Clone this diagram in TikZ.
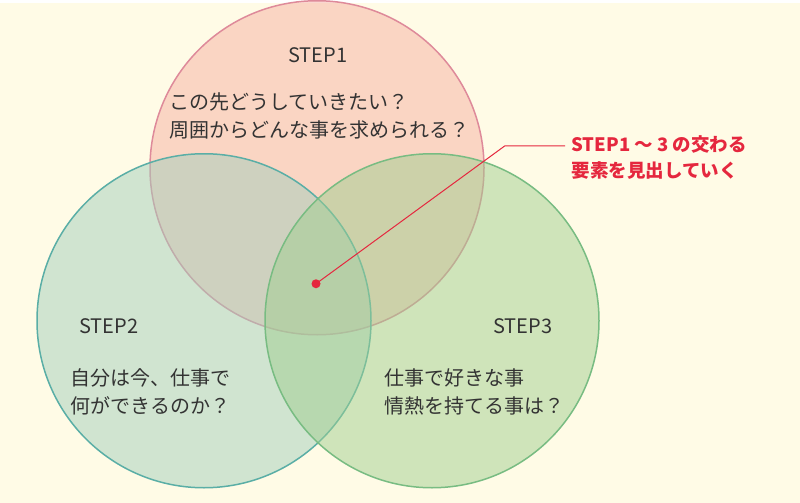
\documentclass[tikz,border=0pt]{standalone}
\usepackage{fontspec}
\setmainfont{Noto Sans CJK JP}
\usetikzlibrary{positioning}
\definecolor{bgcream}{HTML}{FFFBE6}
\definecolor{pinkfill}{HTML}{F6B0A2}
\definecolor{pinkline}{HTML}{DE8A9A}
\definecolor{tealfill}{HTML}{A3CFBC}
\definecolor{tealline}{HTML}{5AAEA6}
\definecolor{greenfill}{HTML}{A0CE90}
\definecolor{greenline}{HTML}{78BC82}
\definecolor{markred}{HTML}{E5273E}
\definecolor{textdark}{HTML}{333333}

\begin{document}
\begin{tikzpicture}[x=1pt,y=-1pt,
  setcircle/.style={
    circle,
    minimum size=334pt,
    line width=1.5pt,
    fill opacity=0.5,
    draw opacity=1
  },
  steplabel/.style={font=\fontsize{20}{24}\selectfont, text=textdark},
  question/.style={
    font=\fontsize{20}{28}\selectfont,
    text=textdark,
    align=left
  },
  note/.style={font=\bfseries\fontsize{18.5}{26}\selectfont, text=markred, align=left}
]
\fill[bgcream] (0,0) rectangle (800,500);

% the three circles
\node (top)   [setcircle, draw=pinkline, fill=pinkfill]   at (317,165) {};
\node (left)  [setcircle, draw=tealline, fill=tealfill]   at (204,318) {};
\node (right) [setcircle, draw=greenline, fill=greenfill] at (432,318) {};

% labels
\node (step1) [steplabel] at (318,52)  {STEP1};
\node (q1)    [question, anchor=north west] at (166,86) {この先どうしていきたい？\\周囲からどんな事を求められる？};
\node (step2) [steplabel] at (109,323) {STEP2};
\node (q2)    [question, anchor=north west] at (67,362) {自分は今、仕事で\\何ができるのか？};
\node (step3) [steplabel] at (523,323) {STEP3};
\node (q3)    [question, anchor=north west] at (381,362) {仕事で好きな事\\情熱を持てる事は？};

% pointer to the overlap
\fill[markred] (316,281) circle (4.5pt);
\coordinate (centre) at (316,281);
\coordinate (bend) at (505,143);
\node (goal) [note, anchor=west] at (568,155) {STEP1 〜 3 の交わる\\要素を見出していく};
\draw[markred, line width=1pt] (centre) -- (bend) -- (565,143);
\end{tikzpicture}
\end{document}
